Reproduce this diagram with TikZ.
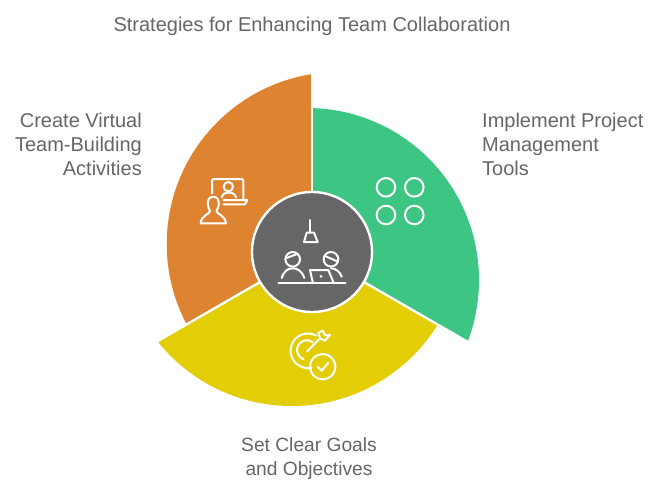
\documentclass[tikz,border=0pt]{standalone}
\usepackage{fontspec}
\setmainfont{Liberation Sans}
\definecolor{cgreen}{HTML}{3CC583}
\definecolor{cyellow}{HTML}{E3CE05}
\definecolor{corange}{HTML}{DE8431}
\definecolor{cgray}{HTML}{666666}
\tikzset{
  lbl/.style={text=cgray,font=\fontsize{20}{24}\selectfont,inner sep=0pt},
  ico/.style={draw=white,line width=2pt,line cap=round,line join=round,fill=none},
  gap/.style={draw=white,line width=2.4pt},
}
\begin{document}
\begin{tikzpicture}[x=1pt,y=-1pt]
\useasboundingbox (0,0) rectangle (661,492);
\fill[white] (0,0) rectangle (661,492);
\coordinate (c) at (312,252);
% sectors
\begin{scope}
 \clip (c) -- (312,-100) -- (800,-100) -- (800,533.7) -- cycle;
 \fill[cgreen] (307,280) circle (172);
\end{scope}
\begin{scope}
 \clip (c) -- (1000,649) -- (312,1000) -- (-376,649) -- cycle;
 \fill[cyellow] (291.75,234.5) circle (171.5);
\end{scope}
\begin{scope}
 \clip (c) -- (-376,649) -- (-500,-100) -- (312,-100) -- cycle;
 \fill[corange] (338.75,244) circle (172);
\end{scope}
\draw[gap] (c) -- (312,60);
\draw[gap] (c) -- (485.2,352);
\draw[gap] (c) -- (138.8,352);
\node[circle,draw=white,line width=2.4pt,fill=cgray,minimum size=120pt,inner sep=0pt] (hub) at (c) {};
% hub icon
\draw[ico] (310.3,220) -- (310.3,232.5);
\draw[ico] (306.7,232.7) -- (314,232.7) -- (317.7,242) -- (304,242) -- cycle;
\draw[ico] (292.7,259.3) circle (7.3);
\draw[ico] (286.5,258) -- (297.5,253.8);
\draw[ico] (281.7,278) .. controls (284,271) and (288,268.3) .. (292.7,268.3) .. controls (297.5,268.3) and (302,271) .. (304.3,278);
\draw[ico] (331,259.3) circle (7.3);
\draw[ico] (325,256) -- (336.5,261);
\draw[ico] (331,268.3) .. controls (336,268.3) and (340,272) .. (341.7,276.7);
\draw[ico] (278.3,283) -- (345.7,283);
\draw[ico] (312.7,282) -- (310,270) -- (328.3,270) -- (333.3,282);
\fill[white] (321,276.3) circle (1.5);
% orange icon
\draw[ico] (212,193.3) -- (212,181) arc[start angle=180,end angle=270,radius=2] -- (241.3,179) arc[start angle=-90,end angle=0,radius=2] -- (243.3,200);
\draw[ico] (223.3,200) -- (247.3,200) -- (245,204.3) -- (223.3,204.3);
\draw[ico] (228.3,186.7) circle (4.7);
\draw[ico] (221.7,197.3) .. controls (223,193.5) and (225.5,192.5) .. (228.5,192.5) .. controls (232,192.5) and (235,194) .. (236,197.3);
\draw[ico] (213.3,196.8) .. controls (209,196.8) and (207.8,200) .. (207.8,203.5) .. controls (207.8,207) and (209.5,209.5) .. (210,211) .. controls (210,214) and (201,215.5) .. (200.7,223.3) -- (226,223.3) .. controls (225.5,215.5) and (216.5,214) .. (216.5,211) .. controls (217,209.5) and (218.8,207) .. (218.8,203.5) .. controls (218.8,200) and (217.5,196.8) .. (213.3,196.8) -- cycle;
% green icon
\draw[ico] (386,187.3) circle (9.3);
\draw[ico] (414.3,187.3) circle (9.3);
\draw[ico] (386,215) circle (9.3);
\draw[ico] (414.3,215) circle (9.3);
% yellow icon
\draw[ico] (316,335.5) arc[start angle=-62,end angle=-282,radius=17.3];
\draw[ico] (312.5,342) arc[start angle=-55,end angle=-250,radius=9.8];
\draw[ico] (307,351.5) -- (320,338.3);
\draw[ico] (318.3,332.7) -- (322.7,330.7) -- (325,335) -- (330,335) -- (325,340.7) -- (320,338.3) -- cycle;
\draw[ico] (322.7,366.7) circle (12.7);
\draw[ico] (317.7,366.7) -- (321.7,370.7) -- (328.3,362.7);
% labels
\node[lbl,anchor=center] (title) at (312,26) {Strategies for Enhancing Team Collaboration};
\node[lbl,anchor=north west,align=left] (r) at (482,113) {Implement Project\\Management\\Tools};
\node[lbl,anchor=north east,align=right] (l) at (142,113) {Create Virtual\\Team-Building\\Activities};
\node[lbl,anchor=north,align=center,font=\fontsize{19.2}{24}\selectfont] (b) at (309,437) {Set Clear Goals\\and Objectives};
\end{tikzpicture}
\end{document}
